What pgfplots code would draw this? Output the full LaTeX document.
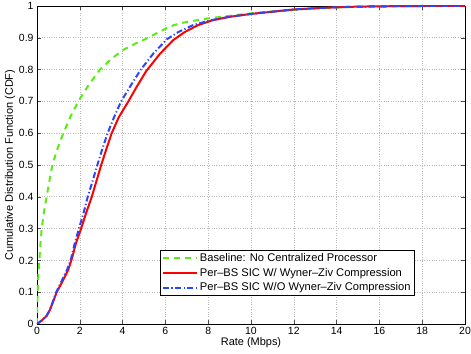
\documentclass[border=0pt]{standalone}
\usepackage{fontspec}
\setmainfont{Liberation Sans}
\usepackage{pgfplots}
\pgfplotsset{compat=1.18}
\definecolor{cgreen}{RGB}{90,235,20}
\definecolor{cred}{RGB}{255,0,0}
\definecolor{cblue}{RGB}{40,70,255}
\begin{document}
\begin{tikzpicture}
\begin{axis}[
  scale only axis,
  width=428bp, height=318bp,
  xmin=0, xmax=20, ymin=0, ymax=1,
  xtick={0,2,...,20},
  ytick={0,0.1,...,1},
  yticklabels={0,0.1,0.2,0.3,0.4,0.5,0.6,0.7,0.8,0.9,1},
  /pgf/number format/assume math mode=true,
  tick label style={font=\fontsize{10.5}{12}\selectfont},
  label style={font=\fontsize{11}{13}\selectfont},
  xlabel={Rate (Mbps)},
  ylabel={Cumulative Distribution Function (CDF)},
  xlabel style={yshift=4bp},
  ylabel style={yshift=-3bp},
  grid=major,
  major grid style={gray!55, dotted, line width=0.6pt},
  axis line style={black, line width=0.6pt},
  tick style={black!70, line width=0.5pt},
  tick align=inside,
  xtick pos=both, ytick pos=both,
  major tick length=4bp,
  clip=true,
  legend style={
    at={(rel axis cs:0.883,0.089)}, anchor=south east,
    font=\fontsize{11.2}{13}\selectfont,
    draw=black, line width=0.6pt, fill=white,
    inner xsep=2bp, inner ysep=1bp,
    row sep=1bp,
    cells={anchor=west},
  },
  legend image code/.code={\draw[#1] (0bp,0bp) -- (34bp,0bp);},
]
\addplot[cgreen, line width=2pt, dash pattern=on 6bp off 5bp] coordinates {
(0,0) (0.01,0.05) (0.03,0.10) (0.06,0.15) (0.11,0.20) (0.16,0.25) (0.22,0.30)
(0.32,0.35) (0.45,0.40) (0.58,0.45) (0.72,0.50) (0.95,0.55) (1.23,0.60)
(1.55,0.65) (1.93,0.70) (2.4,0.75) (2.94,0.80) (3.5,0.835) (4.03,0.862)
(4.6,0.882) (5.2,0.90) (5.8,0.922) (6.4,0.94) (7.0,0.950) (8,0.961) (9,0.969)
(10,0.977) (11,0.983) (12,0.988) (13,0.992) (14,0.995) (15,0.997) (16,0.998)
(17,0.999) (18,1.0) (20,1.0)
};
\addlegendentry{Baseline: No Centralized Processor}
\addplot[cred, line width=2pt] coordinates {
(0,0) (0.2,0.01) (0.45,0.025) (0.61,0.045) (0.92,0.10) (1.2,0.135) (1.46,0.17)
(1.65,0.21) (1.82,0.254) (2.06,0.30) (2.3,0.35) (2.56,0.40) (2.78,0.45)
(3.0,0.50) (3.24,0.55) (3.49,0.60) (3.82,0.65) (4.27,0.70) (4.66,0.746)
(5.1,0.795) (5.75,0.850) (6.37,0.893) (6.9,0.918) (7.53,0.94) (8.2,0.955)
(9,0.966) (10,0.975) (11,0.982) (12,0.989) (13,0.993) (14,0.996) (15,0.998)
(16,0.999) (18,1.0) (20,1.0)
};
\addlegendentry{Per\textendash BS SIC W/ Wyner\textendash Ziv Compression}
\addplot[cblue, line width=2pt, dash pattern=on 6bp off 2.5bp on 1.2bp off 2.5bp] coordinates {
(0,0) (0.2,0.01) (0.45,0.027) (0.61,0.045) (0.9,0.10) (1.15,0.135) (1.4,0.17)
(1.57,0.20) (1.75,0.25) (1.96,0.30) (2.18,0.35) (2.37,0.40) (2.6,0.45)
(2.82,0.50) (3.05,0.55) (3.3,0.60) (3.6,0.65) (3.93,0.70) (4.38,0.75)
(4.85,0.80) (5.43,0.85) (6.06,0.895) (6.6,0.918) (7.3,0.94) (8.1,0.955)
(9,0.966) (10,0.975) (11,0.982) (12,0.989) (13,0.993) (14,0.996) (15,0.998)
(16,0.999) (18,1.0) (20,1.0)
};
\addlegendentry{Per\textendash BS SIC W/O Wyner\textendash Ziv Compression}
\coordinate (SW) at (rel axis cs:0,0);
\coordinate (NE) at (rel axis cs:1,1);
\end{axis}
\pgfresetboundingbox
\path[use as bounding box] ([shift={(-37bp,-30bp)}]SW) rectangle ([shift={(6bp,6bp)}]NE);
\end{tikzpicture}
\end{document}
